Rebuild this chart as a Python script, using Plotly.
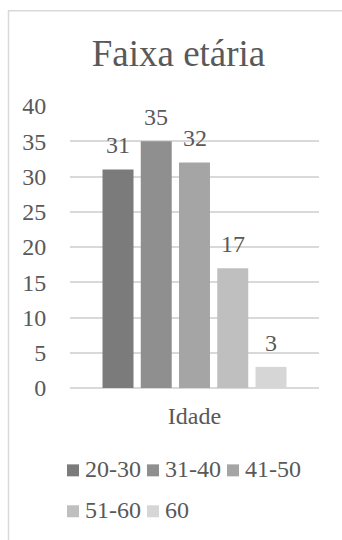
import plotly.graph_objects as go

# Age-group distribution
category = ["Idade"]
series_names = ["20-30", "31-40", "41-50", "51-60", "60"]
series_values = [31, 35, 32, 17, 3]
series_colors = ["#7b7b7b", "#8f8f8f", "#a5a5a5", "#bfbfbf", "#d6d6d6"]
y_ticks = [0, 5, 10, 15, 20, 25, 30, 35, 40]

W, H = 342, 540
ML, MR, MT, MB = 70, 23, 106, 151.5
PW, PH = W - ML - MR, H - MT - MB
FONT = "Liberation Serif"
TXT = "#595959"
GRID = "#d9d9d9"
BARGAP = 0.232
GROUPGAP = 0.19


def px_x(px):
    return (px - ML) / PW


def px_y(py):
    return 1 - (py - MT) / PH


fig = go.Figure()
for name, val, col in zip(series_names, series_values, series_colors):
    fig.add_trace(go.Bar(
        x=category, y=[val], name=name, marker_color=col,
        marker_line_width=0, showlegend=False,
    ))

annotations = []
# value labels above each bar, centred on its slot in the group
slot = (1 - BARGAP) / len(series_values)
n = len(series_values)
for i, val in enumerate(series_values):
    annotations.append(dict(
        x=(i - (n - 1) / 2) * slot, y=val, xref="x", yref="y",
        text=str(val), showarrow=False, xanchor="center", yanchor="bottom",
        yshift=9, font=dict(family=FONT, size=24, color=TXT),
    ))

# legend laid out in two rows (3 + 2 entries)
leg_cols = [67, 147, 227]
leg_rows = [471, 512]
shapes = []
for i, (name, col) in enumerate(zip(series_names, series_colors)):
    cx = leg_cols[i % 3]
    cy = leg_rows[i // 3]
    shapes.append(dict(
        type="rect", xref="paper", yref="paper",
        x0=px_x(cx), x1=px_x(cx + 12), y0=px_y(cy - 6), y1=px_y(cy + 6),
        fillcolor=col, line_width=0,
    ))
    annotations.append(dict(
        x=px_x(cx + 16), y=px_y(cy - 1.5), xref="paper", yref="paper",
        text=name, showarrow=False, xanchor="left", yanchor="middle",
        font=dict(family=FONT, size=24, color=TXT),
    ))

# chart-area border
shapes.append(dict(
    type="rect", xref="paper", yref="paper",
    x0=px_x(8.5), x1=px_x(420), y0=px_y(620), y1=px_y(10.5),
    line=dict(color=GRID, width=1.5), fillcolor="rgba(0,0,0,0)", layer="below",
))

fig.update_layout(
    width=W, height=H,
    margin=dict(l=ML, r=MR, t=MT, b=MB, pad=0),
    paper_bgcolor="white", plot_bgcolor="white",
    barmode="group", bargap=BARGAP, bargroupgap=GROUPGAP,
    title=dict(
        text="Faixa etária", x=178.5 / W, xanchor="center", xref="container",
        y=1 - 53 / H, yanchor="middle", yref="container",
        font=dict(family=FONT, size=37, color=TXT),
    ),
    font=dict(family=FONT, size=24, color=TXT),
    xaxis=dict(
        type="category", showgrid=False, showline=False, zeroline=False,
        ticks="outside", ticklen=6, tickcolor="rgba(0,0,0,0)",
        tickfont=dict(family=FONT, size=24, color=TXT),
    ),
    yaxis=dict(
        range=[0, 40], tickvals=y_ticks, showgrid=True, gridcolor=GRID,
        gridwidth=1.5, zeroline=True, zerolinecolor=GRID, zerolinewidth=1.5,
        showline=False, ticks="outside", ticklen=18,
        tickcolor="rgba(0,0,0,0)",
        tickfont=dict(family=FONT, size=24, color=TXT),
    ),
    shapes=shapes, annotations=annotations, showlegend=False,
)

fig.write_html("out.html")
